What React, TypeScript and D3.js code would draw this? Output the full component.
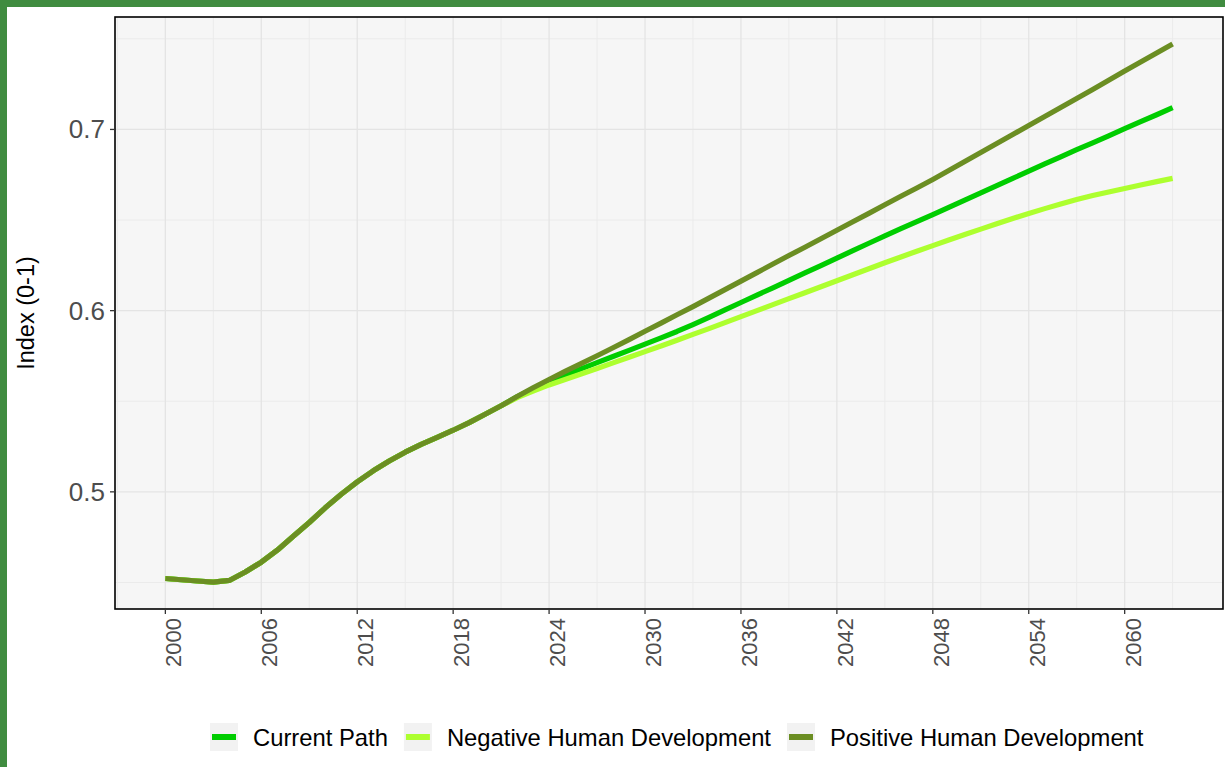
import * as d3 from 'd3';

// years on the x axis
const years = d3.range(2000, 2064);

// shared history 2000-2021
const history = [
  0.4522, 0.4515, 0.4508, 0.4502, 0.4511, 0.4558, 0.4612, 0.4678, 0.4755, 0.4831, 0.4912,
  0.4987, 0.5055, 0.5116, 0.5170, 0.5219, 0.5262, 0.5301, 0.5340, 0.5382, 0.5428, 0.5475
];

// projections 2022-2063
const currentPath = [
  0.5524, 0.5568, 0.5610, 0.5645, 0.5679, 0.5713, 0.5747, 0.5781, 0.5815, 0.5850, 0.5885,
  0.5923, 0.5963, 0.6004, 0.6045, 0.6086, 0.6126, 0.6167, 0.6208, 0.6249, 0.6290, 0.6331,
  0.6372, 0.6412, 0.6452, 0.6491, 0.6530, 0.6570, 0.6610, 0.6650, 0.6690, 0.6730, 0.6770,
  0.6810, 0.6849, 0.6888, 0.6926, 0.6965, 0.7004, 0.7043, 0.7081, 0.7120
];
const negativeHD = [
  0.5520, 0.5556, 0.5590, 0.5620, 0.5650, 0.5681, 0.5712, 0.5743, 0.5774, 0.5805, 0.5837,
  0.5869, 0.5901, 0.5934, 0.5967, 0.6000, 0.6033, 0.6066, 0.6099, 0.6132, 0.6165, 0.6198,
  0.6231, 0.6264, 0.6296, 0.6328, 0.6359, 0.6390, 0.6420, 0.6450, 0.6480, 0.6509, 0.6536,
  0.6563, 0.6589, 0.6613, 0.6635, 0.6655, 0.6674, 0.6693, 0.6712, 0.6730
];
const positiveHD = [
  0.5526, 0.5574, 0.5620, 0.5665, 0.5708, 0.5751, 0.5795, 0.5840, 0.5886, 0.5931, 0.5977,
  0.6022, 0.6069, 0.6116, 0.6163, 0.6210, 0.6257, 0.6304, 0.6350, 0.6397, 0.6444, 0.6491,
  0.6537, 0.6584, 0.6631, 0.6677, 0.6724, 0.6773, 0.6823, 0.6873, 0.6922, 0.6972, 0.7022,
  0.7071, 0.7121, 0.7171, 0.7221, 0.7271, 0.7322, 0.7372, 0.7422, 0.7472
];

const seriesNames = ['Current Path', 'Negative Human Development', 'Positive Human Development'];
const seriesColors = ['#00CD00', '#ADFF2F', '#6B8E23'];
const seriesValues = [currentPath, negativeHD, positiveHD];

const xTicks = [2000, 2006, 2012, 2018, 2024, 2030, 2036, 2042, 2048, 2054, 2060];
const yTicks = [0.5, 0.6, 0.7];

const FONT = "'Liberation Sans', Arial, Helvetica, sans-serif";

function measure(text: string, size: number) {
  const ctx = document.createElement('canvas').getContext('2d');
  if (!ctx) return text.length * size * 0.5;
  ctx.font = `${size}px ${FONT}`;
  return ctx.measureText(text).width;
}

export default function App() {
  const width = 1225;
  const height = 767;
  const panel = { left: 115, right: 1223, top: 17, bottom: 609 };

  const series = seriesValues.map((vals, i) => ({
    name: seriesNames[i],
    color: seriesColors[i],
    points: years.map((yr, j) => ({ year: yr, value: j < history.length ? history[j] : vals[j - history.length] }))
  }));

  const allVals = series.flatMap(s => s.points.map(p => p.value));
  const [yMin, yMax] = d3.extent(allVals) as [number, number];
  const yPad = (yMax - yMin) * 0.05;
  const xPad = (2063 - 2000) * 0.05;

  const xScale = d3.scaleLinear().domain([2000 - xPad, 2063 + xPad]).range([panel.left, panel.right]);
  const yScale = d3.scaleLinear().domain([yMin - yPad, yMax + yPad]).range([panel.bottom, panel.top]);

  const xMinor = d3.range(1997, 2066, 6).filter(v => v > xScale.domain()[0] && v < xScale.domain()[1]);
  const yMinor = [0.45, 0.55, 0.65, 0.75].filter(v => v > yScale.domain()[0] && v < yScale.domain()[1]);

  const line = d3.line<{ year: number; value: number }>()
    .x(d => xScale(d.year))
    .y(d => yScale(d.value));

  // legend layout
  const legendFont = 23.8;
  let lx = 210;
  const legendItems = seriesNames.map((name, i) => {
    const item = { name, color: seriesColors[i], x: lx };
    lx += 43 + measure(name, legendFont) + 16;
    return item;
  });

  return (
    <svg width={width} height={height} style={{ position: 'absolute', left: 0, top: 0, background: '#fff' }} fontFamily={FONT}>
      <rect x={0} y={0} width={width} height={height} fill="#fff" />
      {/* frame */}
      <rect x={0} y={0} width={width} height={7} fill="#408C40" />
      <rect x={0} y={0} width={7} height={height} fill="#408C40" />

      {/* panel */}
      <rect x={panel.left} y={panel.top} width={panel.right - panel.left} height={panel.bottom - panel.top} fill="#F6F6F6" />
      {xMinor.map(v => (
        <line key={'xm' + v} x1={xScale(v)} x2={xScale(v)} y1={panel.top} y2={panel.bottom} stroke="#EBEBEB" strokeWidth={1} />
      ))}
      {yMinor.map(v => (
        <line key={'ym' + v} x1={panel.left} x2={panel.right} y1={yScale(v)} y2={yScale(v)} stroke="#EBEBEB" strokeWidth={1} />
      ))}
      {xTicks.map(v => (
        <line key={'xg' + v} x1={xScale(v)} x2={xScale(v)} y1={panel.top} y2={panel.bottom} stroke="#E4E4E4" strokeWidth={1.3} />
      ))}
      {yTicks.map(v => (
        <line key={'yg' + v} x1={panel.left} x2={panel.right} y1={yScale(v)} y2={yScale(v)} stroke="#E4E4E4" strokeWidth={1.3} />
      ))}

      {/* lines */}
      {series.map(s => (
        <path key={s.name} d={line(s.points) || ''} fill="none" stroke={s.color} strokeWidth={5.2} strokeLinejoin="round" />
      ))}

      <rect x={panel.left} y={panel.top} width={panel.right - panel.left} height={panel.bottom - panel.top} fill="none" stroke="#000" strokeWidth={1.6} />

      {/* x axis */}
      {xTicks.map(v => (
        <g key={'xt' + v}>
          <line x1={xScale(v)} x2={xScale(v)} y1={panel.bottom} y2={panel.bottom + 5} stroke="#333" strokeWidth={1.3} />
          <text
            transform={`translate(${xScale(v)},${panel.bottom + 9}) rotate(-90)`}
            textAnchor="end"
            dy="0.72em"
            fontSize={22}
            fill="#4D4D4D"
          >
            {v}
          </text>
        </g>
      ))}

      {/* y axis */}
      {yTicks.map(v => (
        <g key={'yt' + v}>
          <line x1={panel.left - 5} x2={panel.left} y1={yScale(v)} y2={yScale(v)} stroke="#333" strokeWidth={1.3} />
          <text x={panel.left - 10} y={yScale(v)} textAnchor="end" dominantBaseline="central" fontSize={26} fill="#4D4D4D">
            {v.toFixed(1)}
          </text>
        </g>
      ))}
      <text
        transform={`translate(34,${(panel.top + panel.bottom) / 2}) rotate(-90)`}
        textAnchor="middle"
        fontSize={23.5}
        fill="#000"
      >
        Index (0-1)
      </text>

      {/* legend */}
      {legendItems.map(it => (
        <g key={it.name}>
          <rect x={it.x} y={723} width={28} height={28} fill="#F2F2F2" />
          <line x1={it.x + 2} x2={it.x + 26} y1={737} y2={737} stroke={it.color} strokeWidth={6} />
          <text x={it.x + 43} y={737} dominantBaseline="central" fontSize={legendFont} fill="#000">
            {it.name}
          </text>
        </g>
      ))}
    </svg>
  );
}
